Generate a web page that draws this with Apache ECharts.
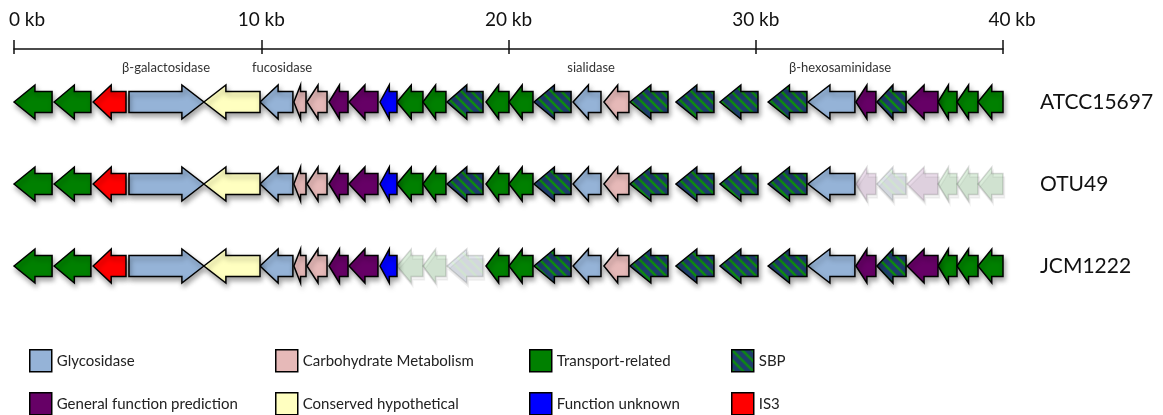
<!DOCTYPE html>
<html><head><meta charset="utf-8">
<script src="https://cdn.jsdelivr.net/npm/echarts@6/dist/echarts.min.js"></script>
<style>html,body{margin:0;padding:0;background:#fff}#c{width:1163px;height:415px}</style>
</head><body><div id="c"></div>
<script>
// ---------- data ----------
const strains = ['ATCC15697', 'OTU49', 'JCM1222'];
const axisTicks = [0, 10, 20, 30, 40];            // kb
const categories = ['Glycosidase', 'Carbohydrate Metabolism', 'Transport-related', 'SBP',
                    'General function prediction', 'Conserved hypothetical', 'Function unknown', 'IS3'];
const geneStart = [0, 1.62, 3.20, 4.65, 7.68, 9.95, 11.32, 11.85, 12.74, 13.55,
                   14.80, 15.49, 16.54, 17.51, 19.09, 20.02, 21.03, 22.61, 23.86, 24.91,
                   26.77, 28.55, 30.50, 32.11, 34.05, 34.90, 36.12, 37.37, 38.14, 38.99];
const geneEnd   = [1.54, 3.11, 4.53, 7.68, 9.95, 11.28, 11.81, 12.66, 13.51, 14.72,
                   15.49, 16.54, 17.47, 18.97, 20.02, 20.99, 22.53, 23.74, 24.87, 26.45,
                   28.31, 30.09, 32.07, 34.01, 34.86, 36.08, 37.37, 38.14, 38.99, 40.0];
const geneStrand = [-1, -1, -1, 1, -1, -1, -1, -1, -1, -1,
                    -1, -1, -1, -1, -1, -1, -1, -1, -1, -1,
                    -1, -1, -1, -1, -1, -1, -1, -1, -1, -1];
const geneType = ['Transport-related', 'Transport-related', 'IS3', 'Glycosidase', 'Conserved hypothetical',
                  'Glycosidase', 'Carbohydrate Metabolism', 'Carbohydrate Metabolism', 'General function prediction', 'General function prediction',
                  'Function unknown', 'Transport-related', 'Transport-related', 'SBP', 'Transport-related',
                  'Transport-related', 'SBP', 'Glycosidase', 'Carbohydrate Metabolism', 'SBP',
                  'SBP', 'SBP', 'SBP', 'Glycosidase', 'General function prediction',
                  'SBP', 'General function prediction', 'Transport-related', 'Transport-related', 'Transport-related'];
// genes absent (faded) per strain, by gene index
const absentOTU49 = [24, 25, 26, 27, 28, 29];
const absentJCM1222 = [11, 12, 13];
const annotationNames = ['β-galactosidase', 'fucosidase', 'sialidase', 'β-hexosaminidase'];
const annotationPos = [6.15, 10.84, 23.34, 33.41];   // kb
// legend layout order (two rows of four)
const legendRow1 = ['Glycosidase', 'Carbohydrate Metabolism', 'Transport-related', 'SBP'];
const legendRow2 = ['General function prediction', 'Conserved hypothetical', 'Function unknown', 'IS3'];

// ---------- styling ----------
const FONT = 'Lato, "Open Sans", sans-serif';
const catColor = {
  'Glycosidase': '#95b3d7',
  'Carbohydrate Metabolism': '#e6b9b8',
  'Transport-related': '#008000',
  'SBP': '#1f3d6d',
  'General function prediction': '#660066',
  'Conserved hypothetical': '#ffffc0',
  'Function unknown': '#0000ff',
  'IS3': '#ff0000'
};
function stripeCanvas() {
  const c = document.createElement('canvas');
  c.width = 10; c.height = 10;
  const g = c.getContext('2d');
  g.fillStyle = '#1f3d6d'; g.fillRect(0, 0, 10, 10);
  g.strokeStyle = '#0e8a12'; g.lineWidth = 2.6;
  for (let k = -2; k <= 2; k++) {
    g.beginPath(); g.moveTo(k * 10 - 1, -1); g.lineTo(k * 10 + 11, 11); g.stroke();
  }
  return c;
}
const sbpPattern = { image: stripeCanvas(), repeat: 'repeat' };
const catFill = Object.assign({}, catColor, { 'SBP': sbpPattern });

const absent = [[], absentOTU49, absentJCM1222];

function renderGene(cat) {
  return function (params, api) {
    const s = api.value(0), e = api.value(1), r = api.value(2), dir = api.value(3), faded = api.value(4);
    const p0 = api.coord([s, r]), p1 = api.coord([e, r]);
    const x0 = p0[0], x1 = p1[0], y = p0[1];
    const len = x1 - x0;
    const head = Math.min(22, len * 0.55), hb = 10.5, hh = 17;
    let pts;
    if (dir < 0) {
      pts = [[x0, y], [x0 + head, y - hh], [x0 + head, y - hb], [x1, y - hb], [x1, y + hb], [x0 + head, y + hb], [x0 + head, y + hh]];
    } else {
      pts = [[x1, y], [x1 - head, y + hh], [x1 - head, y + hb], [x0, y + hb], [x0, y - hb], [x1 - head, y - hb], [x1 - head, y - hh]];
    }
    return {
      type: 'polygon',
      shape: { points: pts },
      style: {
        fill: catFill[cat], stroke: '#000', lineWidth: 1.5, lineJoin: 'miter',
        opacity: faded ? 0.14 : 1,
        shadowBlur: faded ? 0 : 5, shadowOffsetX: 1.5, shadowOffsetY: 3.5,
        shadowColor: 'rgba(0,0,0,0.35)'
      }
    };
  };
}

const series = categories.map(cat => {
  const data = [];
  strains.forEach((st, r) => {
    geneType.forEach((t, i) => {
      if (t === cat) data.push({ value: [geneStart[i], geneEnd[i], r, geneStrand[i], absent[r].includes(i) ? 1 : 0] });
    });
  });
  return {
    type: 'custom', name: cat, xAxisIndex: 2, yAxisIndex: 1, clip: false,
    encode: { x: [0, 1], y: 2 },
    itemStyle: { color: catColor[cat] },
    renderItem: renderGene(cat),
    data: data
  };
});

series.push({
  type: 'custom', name: 'annotations', xAxisIndex: 2, yAxisIndex: 1, clip: false, silent: true,
  encode: { x: 0, y: 1 },
  data: annotationPos.map((p, i) => ({ value: [p, 0], name: annotationNames[i] })),
  renderItem: function (params, api) {
    const c = api.coord([api.value(0), api.value(1)]);
    return {
      type: 'text',
      style: { text: annotationNames[params.dataIndex], x: c[0], y: c[1] - 34, align: 'center', verticalAlign: 'middle',
               font: '13px ' + FONT, fill: '#333' }
    };
  }
});

const legendColLeft = [29, 275, 529, 731];
const legendRowTop = [349, 392];
function legendItem(name, left, top) {
  return {
    orient: 'horizontal', left: left, top: top, padding: 0,
    itemWidth: 22, itemHeight: 22, icon: 'rect',
    selectedMode: false,
    itemStyle: { borderColor: '#000', borderWidth: 1.5 },
    textStyle: { fontFamily: FONT, fontSize: 15, color: '#222' },
    data: [name === 'SBP'
      ? { name: name, itemStyle: { color: sbpPattern, borderColor: '#000', borderWidth: 1.5 } }
      : { name: name }]
  };
}
const legends = [];
legendRow1.forEach((n, i) => legends.push(legendItem(n, legendColLeft[i], legendRowTop[0])));
legendRow2.forEach((n, i) => legends.push(legendItem(n, legendColLeft[i], legendRowTop[1])));

const option = {
  animation: false,
  backgroundColor: '#fff',
  grid: [
    { left: 14, right: 160, top: 48, height: 1 },
    { left: 14, right: 160, top: 61, height: 246 }
  ],
  xAxis: [
    { gridIndex: 0, type: 'value', min: axisTicks[0], max: axisTicks[axisTicks.length - 1], interval: 10, position: 'top',
      axisLine: { show: true, lineStyle: { color: '#111', width: 1.5 } },
      axisTick: { show: true, length: 9, lineStyle: { color: '#111', width: 1.5 } },
      splitLine: { show: false },
      axisLabel: { margin: 19, fontFamily: FONT, fontSize: 19, color: '#111',
        formatter: v => v === 0 ? '{l|0 kb}' : (v === 40 ? '{r|40 kb}' : v + ' kb'),
        rich: { l: { padding: [0, 0, 0, 26], fontFamily: FONT, fontSize: 19, color: '#111' },
                r: { padding: [0, 0, 0, 18], fontFamily: FONT, fontSize: 19, color: '#111' } } } },
    { gridIndex: 0, type: 'value', min: 0, max: 40, interval: 10, position: 'bottom',
      axisLine: { show: false }, axisLabel: { show: false }, splitLine: { show: false },
      axisTick: { show: true, length: 5, lineStyle: { color: '#111', width: 1.5 } } },
    { gridIndex: 1, type: 'value', min: 0, max: 40, show: false, splitLine: { show: false } }
  ],
  yAxis: [
    { gridIndex: 0, type: 'value', show: false },
    { gridIndex: 1, type: 'category', data: strains, inverse: true, position: 'right',
      axisLine: { show: false }, axisTick: { show: false }, splitLine: { show: false },
      axisLabel: { margin: 37, fontFamily: FONT, fontSize: 21, color: '#111', align: 'left' } }
  ],
  legend: legends,
  series: series
};
const chart = echarts.init(document.getElementById('c'), null, { renderer: 'canvas' });
chart.setOption(option);
</script>
</body></html>
